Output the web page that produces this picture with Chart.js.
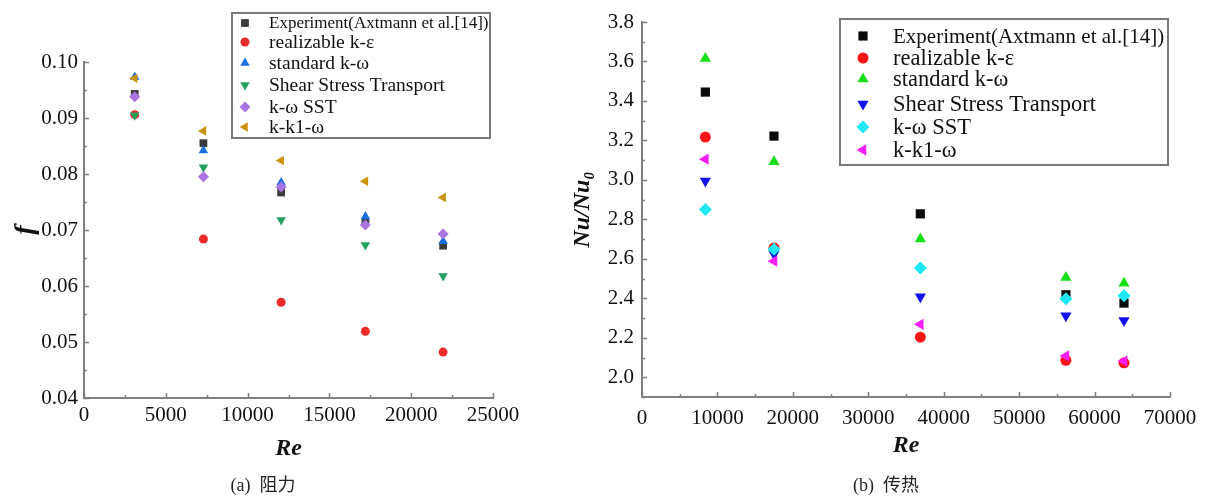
<!DOCTYPE html>
<html>
<head>
<meta charset="utf-8">
<script src="https://cdn.jsdelivr.net/npm/chart.js@4.4.1/dist/chart.umd.min.js"></script>
<style>
  html, body { margin: 0; padding: 0; background: #fff; }
  body { width: 1211px; height: 499px; position: relative; overflow: hidden; }
  canvas { position: absolute; top: 0; }
  #chartA { left: 0; }
  #chartB { left: 560px; }
  .caption {
    position: absolute; top: 474px; font-size: 18px; line-height: 22px; color: #222;
    font-family: "Liberation Serif", "Noto Sans CJK SC", serif;
    white-space: nowrap; transform: translateX(-50%);
  }
</style>
</head>
<body>
<canvas id="chartA" width="560" height="499"></canvas>
<canvas id="chartB" width="651" height="499"></canvas>
<div class="caption" style="left:263px">(a)&nbsp; 阻力</div>
<div class="caption" style="left:886px">(b)&nbsp; 传热</div>

<script>
// ---- data ----
const seriesNames = ["Experiment(Axtmann et al.[14])", "realizable k-ε", "standard k-ω",
  "Shear Stress Transport", "k-ω SST", "k-k1-ω"];

// (a) friction factor f vs Re
const reA = [3100, 7300, 12050, 17200, 21950];
const fExp = [0.0943, 0.0855, 0.0767, 0.0715, 0.0672];
const fRke = [0.0906, 0.0684, 0.0571, 0.0519, 0.0482];
const fSkw = [0.0973, 0.0842, 0.0785, 0.0724, 0.0680];
const fSst = [0.0905, 0.0812, 0.0718, 0.0673, 0.0618];
const fKwSst = [0.0938, 0.0795, 0.0777, 0.0709, 0.0693];
const fKk1w = [0.0971, 0.0877, 0.0824, 0.0787, 0.0758];

const xTicksA = [0, 5000, 10000, 15000, 20000, 25000];
const xMinorA = [2500, 7500, 12500, 17500, 22500];
const yTicksA = [0.04, 0.05, 0.06, 0.07, 0.08, 0.09, 0.10];
const yMinorA = [0.045, 0.055, 0.065, 0.075, 0.085, 0.095];

// (b) Nu/Nu0 vs Re
const reB = [8400, 17500, 36900, 56200, 63900];
const nuExp = [3.445, 3.222, 2.828, 2.418, 2.376];
const nuRke = [3.217, 2.655, 2.203, 2.086, 2.073];
const nuSkw = [3.615, 3.092, 2.700, 2.505, 2.476];
const nuSst = [2.995, 2.625, 2.408, 2.312, 2.288];
const nuKwSst = [2.850, 2.648, 2.553, 2.398, 2.413];
const nuKk1w = [3.105, 2.588, 2.268, 2.108, 2.082];

const xTicksB = [0, 10000, 20000, 30000, 40000, 50000, 60000, 70000];
const xMinorB = [5000, 15000, 25000, 35000, 45000, 55000, 65000];
const yTicksB = [2.0, 2.2, 2.4, 2.6, 2.8, 3.0, 3.2, 3.4, 3.6, 3.8];
const yMinorB = [1.9, 2.1, 2.3, 2.5, 2.7, 2.9, 3.1, 3.3, 3.5, 3.7];

// marker look per series: square, circle, up, down, diamond, left
const styles = ["rect", "circle", "triangle", "triangle", "rectRot", "triangle"];
const rotations = [0, 0, 0, 180, 0, 270];
const colorsA = ["#3c3c3c", "#ee2b2b", "#1c6fe0", "#23a060", "#a974e2", "#c9930c"];
const colorsB = ["#0a0a0a", "#ff1414", "#18e018", "#1212ee", "#1ee8f4", "#f41ef4"];

const FONT = '"Liberation Serif", "Times New Roman", serif';
const AXIS = "#808080";
Chart.defaults.font.family = FONT;
Chart.defaults.color = "#111";

// small inward tick marks, like the original plotting program
const innerTicks = {
  id: "innerTicks",
  afterDraw(chart, args, o) {
    const { ctx, chartArea: a, scales: { x, y } } = chart;
    ctx.save();
    ctx.strokeStyle = AXIS;
    ctx.lineWidth = 1.5;
    ctx.beginPath();
    const xt = (vals, len) => vals.forEach(v => {
      const px = Math.round(x.getPixelForValue(v)) + 0.5;
      ctx.moveTo(px, a.bottom); ctx.lineTo(px, a.bottom - len);
    });
    const yt = (vals, len) => vals.forEach(v => {
      const py = Math.round(y.getPixelForValue(v)) + 0.5;
      ctx.moveTo(a.left, py); ctx.lineTo(a.left + len, py);
    });
    xt(o.xMajor, 5); xt(o.xMinor, 3);
    yt(o.yMajor, 5); yt(o.yMinor, 3);
    ctx.stroke();
    ctx.restore();
  }
};

// boxed legend placed where the original has it
const boxLegend = {
  id: "boxLegend",
  afterDatasetsDraw(chart, args, o) {
    const ctx = chart.ctx;
    ctx.save();
    ctx.fillStyle = "#fff";
    ctx.fillRect(o.x, o.y, o.w, o.h);
    ctx.strokeStyle = "#7a7a7a";
    ctx.lineWidth = 2;
    ctx.strokeRect(o.x, o.y, o.w, o.h);
    chart.data.datasets.forEach((ds, i) => {
      const cy = o.rows[i];
      ctx.fillStyle = ds.backgroundColor;
      Chart.helpers.drawPoint(ctx, {
        pointStyle: ds.pointStyle, radius: ds.pointRadius,
        rotation: ds.pointRotation, borderWidth: 0
      }, o.markerX, cy);
      ctx.fillStyle = "#111";
      ctx.font = (i === 0 ? o.firstSize : o.size) + "px " + FONT;
      ctx.textBaseline = "middle";
      ctx.textAlign = "left";
      ctx.fillText(ds.label, o.textX, cy + 1);
    });
    ctx.restore();
  }
};

function makeDatasets(re, seriesVals, colors, radii) {
  return seriesVals.map((vals, i) => ({
    label: seriesNames[i],
    data: re.map((r, k) => ({ x: r, y: vals[k] })),
    backgroundColor: colors[i],
    pointBackgroundColor: colors[i],
    pointBorderWidth: 0,
    pointStyle: styles[i],
    pointRotation: rotations[i],
    pointRadius: radii[i],
    order: seriesVals.length - i
  }));
}

function buildChart(id, p) {
  return new Chart(document.getElementById(id), {
    type: "scatter",
    data: { datasets: makeDatasets(p.re, p.series, p.colors, p.radii) },
    options: {
      responsive: false,
      animation: false,
      layout: { padding: { left: 0, top: p.area.top, right: p.area.right, bottom: 0 } },
      plugins: {
        legend: { display: false },
        tooltip: { enabled: false },
        innerTicks: { xMajor: p.xTicks, xMinor: p.xMinor, yMajor: p.yTicks, yMinor: p.yMinor },
        boxLegend: p.legend
      },
      scales: {
        x: {
          type: "linear", min: p.xTicks[0], max: p.xTicks[p.xTicks.length - 1],
          afterBuildTicks: s => { s.ticks = p.xTicks.map(v => ({ value: v })); },
          afterFit: s => { s.height = p.area.xHeight; },
          grid: { display: false, drawTicks: false },
          border: { display: true, color: AXIS, width: 2 },
          ticks: { padding: p.xPad, maxRotation: 0, font: { size: p.tickSize }, color: "#111",
            callback: v => String(v) },
          title: { display: true, text: "Re", color: "#111",
            font: { size: 24, weight: "bold", style: "italic" },
            padding: { top: 0, bottom: p.xTitlePad } }
        },
        y: {
          type: "linear", min: p.yMin, max: p.yTicks[p.yTicks.length - 1],
          afterBuildTicks: s => { s.ticks = p.yTicks.map(v => ({ value: v })); },
          afterFit: s => { s.width = p.area.left; },
          grid: { display: false, drawTicks: false },
          border: { display: true, color: AXIS, width: 2 },
          ticks: { padding: p.yPad, font: { size: p.tickSize }, color: "#111",
            callback: v => v.toFixed(p.decimals) },
          title: { display: true, text: p.yTitle, color: "#111",
            font: { size: p.yTitleSize, weight: "bold", style: "italic" },
            padding: { top: p.yTitlePad, bottom: 0 } }
        }
      }
    },
    plugins: [innerTicks, boxLegend]
  });
}

buildChart("chartA", {
  re: reA,
  series: [fExp, fRke, fSkw, fSst, fKwSst, fKk1w],
  colors: colorsA,
  radii: [5.5, 4.5, 5.5, 5.5, 5.5, 5.5],
  xTicks: xTicksA, xMinor: xMinorA, yTicks: yTicksA, yMinor: yMinorA,
  yMin: 0.04, decimals: 2,
  area: { left: 84, top: 62, right: 67, xHeight: 101 },
  tickSize: 21, xPad: 5, yPad: 6, xTitlePad: 36,
  yTitle: "f", yTitleSize: 28, yTitlePad: 9,
  legend: { x: 232, y: 13, w: 258, h: 125, markerX: 245, textX: 269,
    rows: [23, 42, 63, 85, 107, 127], size: 19.5, firstSize: 17 }
});

buildChart("chartB", {
  re: reB,
  series: [nuExp, nuRke, nuSkw, nuSst, nuKwSst, nuKk1w],
  colors: colorsB,
  radii: [6.5, 5.5, 6.5, 6.5, 6.5, 6.5],
  xTicks: xTicksB, xMinor: xMinorB, yTicks: yTicksB, yMinor: yMinorB,
  yMin: 1.9, decimals: 1,
  area: { left: 82, top: 22, right: 41, xHeight: 102 },
  tickSize: 21, xPad: 9, yPad: 8, xTitlePad: 39,
  yTitle: "Nu/Nu₀", yTitleSize: 24, yTitlePad: 8,
  legend: { x: 280, y: 19, w: 328, h: 146, markerX: 303, textX: 333,
    rows: [36, 58, 79, 104, 127, 150], size: 22.5, firstSize: 21 }
});
</script>
</body>
</html>
